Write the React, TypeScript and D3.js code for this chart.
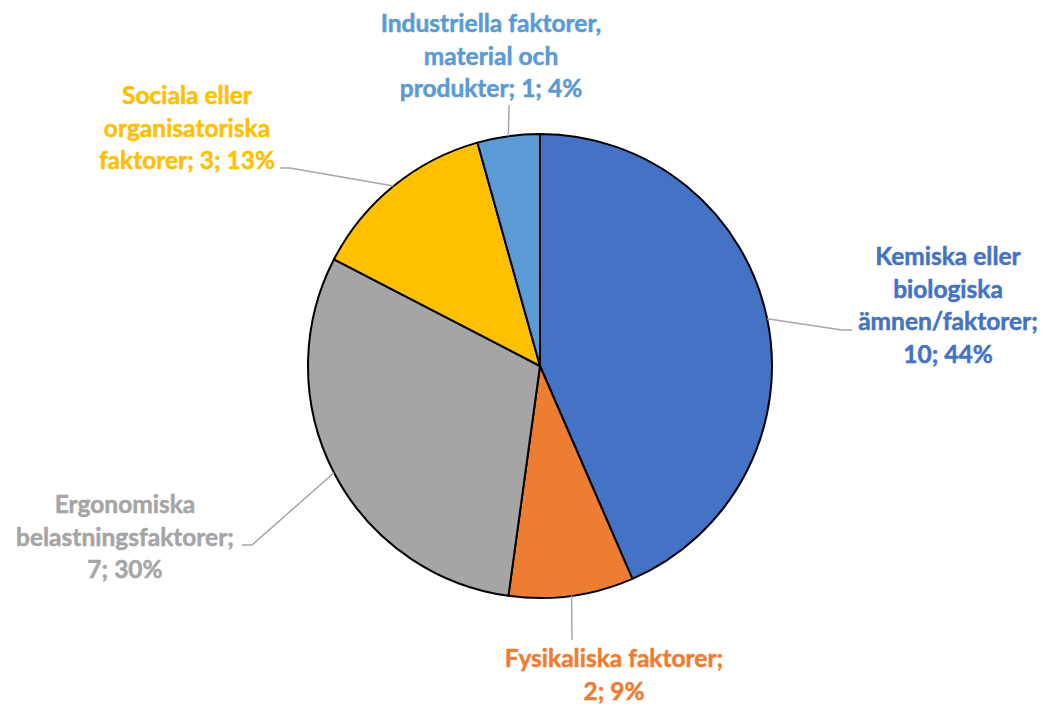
import React from "react";
import * as d3 from "d3";

const categories = [
  "Kemiska eller biologiska ämnen/faktorer",
  "Fysikaliska faktorer",
  "Ergonomiska belastningsfaktorer",
  "Sociala eller organisatoriska faktorer",
  "Industriella faktorer, material och produkter",
];
const values = [10, 2, 7, 3, 1];
const percentLabels = ["44%", "9%", "30%", "13%", "4%"];
const labelLines = [
  ["Kemiska eller", "biologiska", "ämnen/faktorer;", "10; 44%"],
  ["Fysikaliska faktorer;", "2; 9%"],
  ["Ergonomiska", "belastningsfaktorer;", "7; 30%"],
  ["Sociala eller", "organisatoriska", "faktorer; 3; 13%"],
  ["Industriella faktorer,", "material och", "produkter; 1; 4%"],
];
const colors = ["#4472C4", "#ED7D31", "#A5A5A5", "#FFC000", "#5B9BD5"];

// layout (not data)
const W = 1050;
const H = 706;
const CX = 540;
const CY = 366;
const R = 232;
const FONT = 24.5;
const LINE = 32.5;
const labelLayout = [
  { x: 948, y: 265, pts: [[842, 330], [852, 330]] },
  { x: 614, y: 667, pts: [[572, 640]] },
  { x: 125, y: 513, pts: [[252, 545], [242, 545]] },
  { x: 187, y: 104, pts: [[290, 168], [280, 168]] },
  { x: 491, y: 32, pts: [[509, 105]] },
];

export default function App() {
  const pie = d3
    .pie<number>()
    .sort(null)
    .value((d) => d)
    .startAngle(0)
    .endAngle(2 * Math.PI);
  const arcs = pie(values);
  const arc = d3.arc<d3.PieArcDatum<number>>().innerRadius(0).outerRadius(R);
  const line = d3.line();

  return (
    <svg
      width={W}
      height={H}
      style={{ position: "absolute", left: 0, top: 0, background: "#fff" }}
      fontFamily="Lato, 'Open Sans', sans-serif"
    >
      <g transform={`translate(${CX},${CY})`}>
        {arcs.map((a, i) => (
          <path
            key={categories[i]}
            d={arc(a) || ""}
            fill={colors[i]}
            stroke="#000"
            strokeWidth={2}
            strokeLinejoin="round"
          />
        ))}
      </g>
      {arcs.map((a, i) => {
        const mid = (a.startAngle + a.endAngle) / 2;
        const sx = CX + R * Math.sin(mid);
        const sy = CY - R * Math.cos(mid);
        const pts: [number, number][] = [[sx, sy], ...(labelLayout[i].pts as [number, number][])];
        return (
          <path
            key={"l" + i}
            d={line(pts) || ""}
            fill="none"
            stroke="#A6A6A6"
            strokeWidth={1.5}
          />
        );
      })}
      {labelLines.map((lines, i) => (
        <text
          key={"t" + i}
          x={labelLayout[i].x}
          y={labelLayout[i].y}
          textAnchor="middle"
          fontSize={FONT}
          fontWeight="bold"
          fill={colors[i]}
          stroke={colors[i]}
          strokeWidth={0.5}
          data-pct={percentLabels[i]}
        >
          {lines.map((ln, j) => (
            <tspan key={j} x={labelLayout[i].x} y={labelLayout[i].y + j * LINE}>
              {ln}
            </tspan>
          ))}
        </text>
      ))}
    </svg>
  );
}
